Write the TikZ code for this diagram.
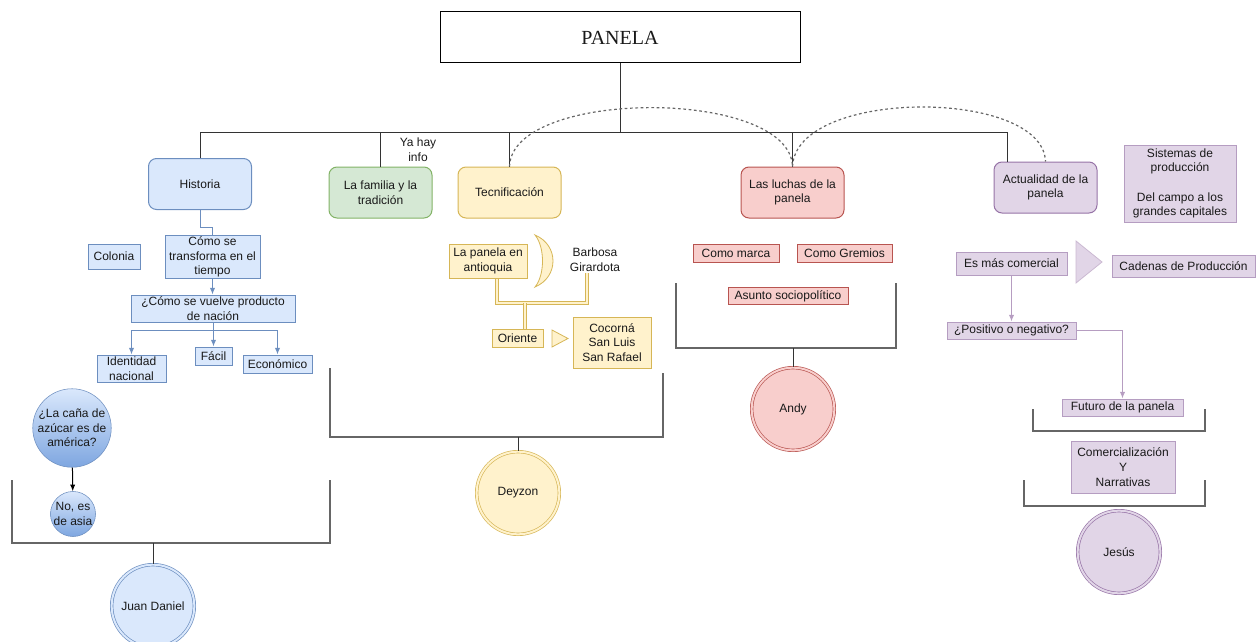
\documentclass[tikz,border=0pt]{standalone}
\usepackage{fontspec}
\setmainfont{Liberation Sans}
\newfontfamily\panelafont{Liberation Serif}
\usetikzlibrary{arrows.meta}

\definecolor{azulF}{HTML}{DAE8FC}
\definecolor{azulB}{HTML}{6C8EBF}
\definecolor{azulO}{HTML}{7EA6E0}
\definecolor{verdeF}{HTML}{D5E8D4}
\definecolor{verdeB}{HTML}{82B366}
\definecolor{amaF}{HTML}{FFF2CC}
\definecolor{amaB}{HTML}{D6B656}
\definecolor{rojoF}{HTML}{F8CECC}
\definecolor{rojoB}{HTML}{B85450}
\definecolor{moraF}{HTML}{E1D5E7}
\definecolor{moraB}{HTML}{9673A6}
\definecolor{linea}{HTML}{333333}
\definecolor{gris}{HTML}{666666}

\tikzset{
  texto/.style={font=\fontsize{9}{11}\selectfont, text=black!90, align=center, inner sep=1pt},
  caja/.style={texto, draw, rectangle, line width=0.75pt},
  tema/.style={caja, rounded corners=6pt, minimum width=77.25pt, minimum height=38.25pt},
  persona/.style={texto, circle, line width=0.5pt, double distance=1.5pt, minimum size=62pt, inner sep=0pt},
  pregunta/.style={texto, circle, draw=azulB, top color=azulF, bottom color=azulO, inner sep=0pt},
  tronco/.style={linea, line width=0.75pt},
  corchete/.style={gris, line width=0.9pt},
  amarillo/.style={draw=amaB, double=amaF, double distance=1.5pt, line width=0.45pt}
}

\begin{document}
\begin{tikzpicture}[x=0.75pt, y=-0.75pt, >={Latex[length=5pt,width=4pt]}]
	\useasboundingbox (0,0) rectangle (1257,642);

	% Titulo
	\node[caja, draw=black, minimum width=270pt, minimum height=38.25pt,
	      font=\panelafont\fontsize{15}{18}\selectfont] (panela) at (620,37.5) {PANELA};

	% Temas principales
	\node[tema, fill=azulF, draw=azulB] (historia) at (200,184) {Historia};
	\node[tema, fill=verdeF, draw=verdeB] (familia) at (380.5,192.5) {La familia y la\\tradición};
	\node[tema, fill=amaF, draw=amaB] (tecni) at (509.5,192.5) {Tecnificación};
	\node[tema, fill=rojoF, draw=rojoB] (luchas) at (792.5,192.5) {Las luchas de la\\panela};
	\node[tema, fill=moraF, draw=moraB] (actualidad) at (1045.5,187.5) {Actualidad de la\\panela};
	\node[texto] (yahay) at (418,150) {Ya hay\\info};

	% Barra principal
	\coordinate (barraI) at (200,132);
	\coordinate (barraD) at (1007,132);
	\draw[tronco] (historia.north) -- (barraI) -- (barraD) -- (barraD |- actualidad.north);
	\draw[tronco] (panela.south) -- (panela.south |- barraI);
	\draw[tronco] (familia.north) -- (familia.north |- barraI);
	\draw[tronco] (tecni.north) -- (tecni.north |- barraI);
	\draw[tronco] (luchas.north) -- (luchas.north |- barraI);

	% Curvas punteadas
	\draw[gris, line width=0.9pt, dash pattern=on 2pt off 2pt] (tecni.north) .. controls (512,88) and (790,88) .. (luchas.north);
	\draw[gris, line width=0.9pt, dash pattern=on 2pt off 2pt] (luchas.north) .. controls (796,88) and (1043,88) .. (actualidad.north);

	% Historia
	\node[caja, fill=azulF, draw=azulB, minimum width=71.25pt, minimum height=31.5pt] (transforma) at (212.5,257) {Cómo se\\transforma en el\\tiempo};
	\node[caja, fill=azulF, draw=azulB, minimum width=39pt, minimum height=18.75pt] (colonia) at (114,256.5) {Colonia};
	\node[caja, fill=azulF, draw=azulB, minimum width=123pt, minimum height=20.25pt] (vuelve) at (213,308.5) {¿Cómo se vuelve producto\\de nación};
	\node[caja, fill=azulF, draw=azulB, minimum width=51.75pt, minimum height=20.25pt] (identidad) at (131.5,368.5) {Identidad\\nacional};
	\node[caja, fill=azulF, draw=azulB, minimum width=27.75pt, minimum height=13.5pt] (facil) at (213.5,356) {Fácil};
	\node[caja, fill=azulF, draw=azulB, minimum width=51.75pt, minimum height=13.5pt] (economico) at (277.5,364) {Económico};

	\draw[azulB, line width=0.75pt] (historia.south) -- ++(0,17) -| (transforma.north);
	\draw[azulB, line width=0.75pt, ->] (transforma.south) -- (transforma.south |- vuelve.north);
	\coordinate (ramaV) at (213,330);
	\draw[azulB, line width=0.75pt] (vuelve.south) -- (ramaV);
	\draw[azulB, line width=0.75pt, ->] (ramaV) -| (identidad.north);
	\draw[azulB, line width=0.75pt, ->] (ramaV) -| (economico.north);
	\draw[azulB, line width=0.75pt, ->] (facil.north |- ramaV) -- (facil.north);

	\node[pregunta, minimum size=57pt] (cana) at (72,428) {¿La caña de\\azúcar es de\\américa?};
	\node[pregunta, minimum size=31.5pt] (asia) at (73,514) {No, es\\de asia};
	\draw[black, line width=0.75pt, ->] (cana) -- (asia);

	\draw[corchete] (12,480) -- (12,543) -- (330,543) -- (330,480);
	\coordinate (baseJuan) at (153,543);
	\node[persona, fill=azulF, draw=azulB, double=azulF] (juan) at (153,606) {Juan Daniel};
	\draw[tronco] (baseJuan) -- (juan);

	% Tecnificacion
	\node[caja, fill=amaF, draw=amaB, minimum width=58.5pt, minimum height=25.5pt] (antioquia) at (488,261) {La panela en\\antioquia};
	\draw[fill=amaF, draw=amaB, line width=0.6pt] (535,235) .. controls (559,245) and (559,277) .. (535,287) .. controls (545,275) and (545,247) .. cycle;
	\node[texto] (barbosa) at (595,260) {Barbosa\\Girardota};
	\node[caja, fill=amaF, draw=amaB, minimum width=38.25pt, minimum height=13.5pt] (oriente) at (517.5,338) {Oriente};
	\draw[fill=amaF, draw=amaB, line width=0.6pt] (552,330) -- (568,338.5) -- (552,347) -- cycle;
	\node[caja, fill=amaF, draw=amaB, minimum width=58.5pt, minimum height=38.25pt] (cocorna) at (612,342.5) {Cocorná\\San Luis\\San Rafael};

	\coordinate (unionT) at (525,303);
	\draw[amarillo] ([xshift=6.75pt]antioquia.south) |- (unionT) -| ([xshift=-6pt]barbosa.south);
	\draw[amarillo] (unionT) -- (unionT |- oriente.north);

	\draw[corchete] (330,368) -- (330,437) -- (663,437) -- (663,373);
	\coordinate (baseDeyzon) at (518,437);
	\node[persona, fill=amaF, draw=amaB, double=amaF] (deyzon) at (518,493) {Deyzon};
	\draw[tronco] (baseDeyzon) -- (deyzon);

	% Luchas
	\node[caja, fill=rojoF, draw=rojoB, minimum width=64.5pt, minimum height=13.5pt] (marca) at (736,253) {Como marca};
	\node[caja, fill=rojoF, draw=rojoB, minimum width=71.25pt, minimum height=13.5pt] (gremios) at (844.5,253) {Como Gremios};
	\node[caja, fill=rojoF, draw=rojoB, minimum width=90pt, minimum height=12.75pt] (asunto) at (788,296) {Asunto sociopolítico};

	\draw[corchete] (676,283) -- (676,348) -- (896,348) -- (896,283);
	\coordinate (baseAndy) at (793,348);
	\node[persona, fill=rojoF, draw=rojoB, double=rojoF] (andy) at (793,409) {Andy};
	\draw[tronco] (baseAndy) -- (andy);

	% Actualidad
	\node[caja, fill=moraF, draw=moraB!70, minimum width=84pt, minimum height=57.75pt] (sistemas) at (1180,183.5) {Sistemas de\\producción\\[11pt]Del campo a los\\grandes capitales};
	\node[caja, fill=moraF, draw=moraB!70, minimum width=83.25pt, minimum height=17.25pt] (comercial) at (1011.5,263.5) {Es más comercial};
	\draw[fill=moraF, draw=moraB!50, line width=0.6pt] (1076,241) -- (1102,262) -- (1076,283) -- cycle;
	\node[caja, fill=moraF, draw=moraB!70, minimum width=107.25pt, minimum height=16.5pt] (cadenas) at (1183.5,266) {Cadenas de Producción};
	\node[caja, fill=moraF, draw=moraB!70, minimum width=96.75pt, minimum height=12.75pt] (positivo) at (1011.5,330.5) {¿Positivo o negativo?};
	\node[caja, fill=moraF, draw=moraB!70, minimum width=90.75pt, minimum height=12.75pt] (futuro) at (1122.5,407.5) {Futuro de la panela};
	\node[caja, fill=moraF, draw=moraB!70, minimum width=78pt, minimum height=39pt] (narrativas) at (1123,467) {Comercialización\\Y\\Narrativas};

	\draw[moraB!70, line width=0.75pt, ->] (comercial.south) -- (comercial.south |- positivo.north);
	\draw[moraB!70, line width=0.75pt, ->] (positivo.east) -| (futuro.north);

	\draw[corchete] (1033,409) -- (1033,431) -- (1205,431) -- (1205,409);
	\draw[corchete] (1024,480) -- (1024,506) -- (1205,506) -- (1205,480);
	\node[persona, fill=moraF, draw=moraB, double=moraF] (jesus) at (1119,552) {Jesús};

\end{tikzpicture}
\end{document}
